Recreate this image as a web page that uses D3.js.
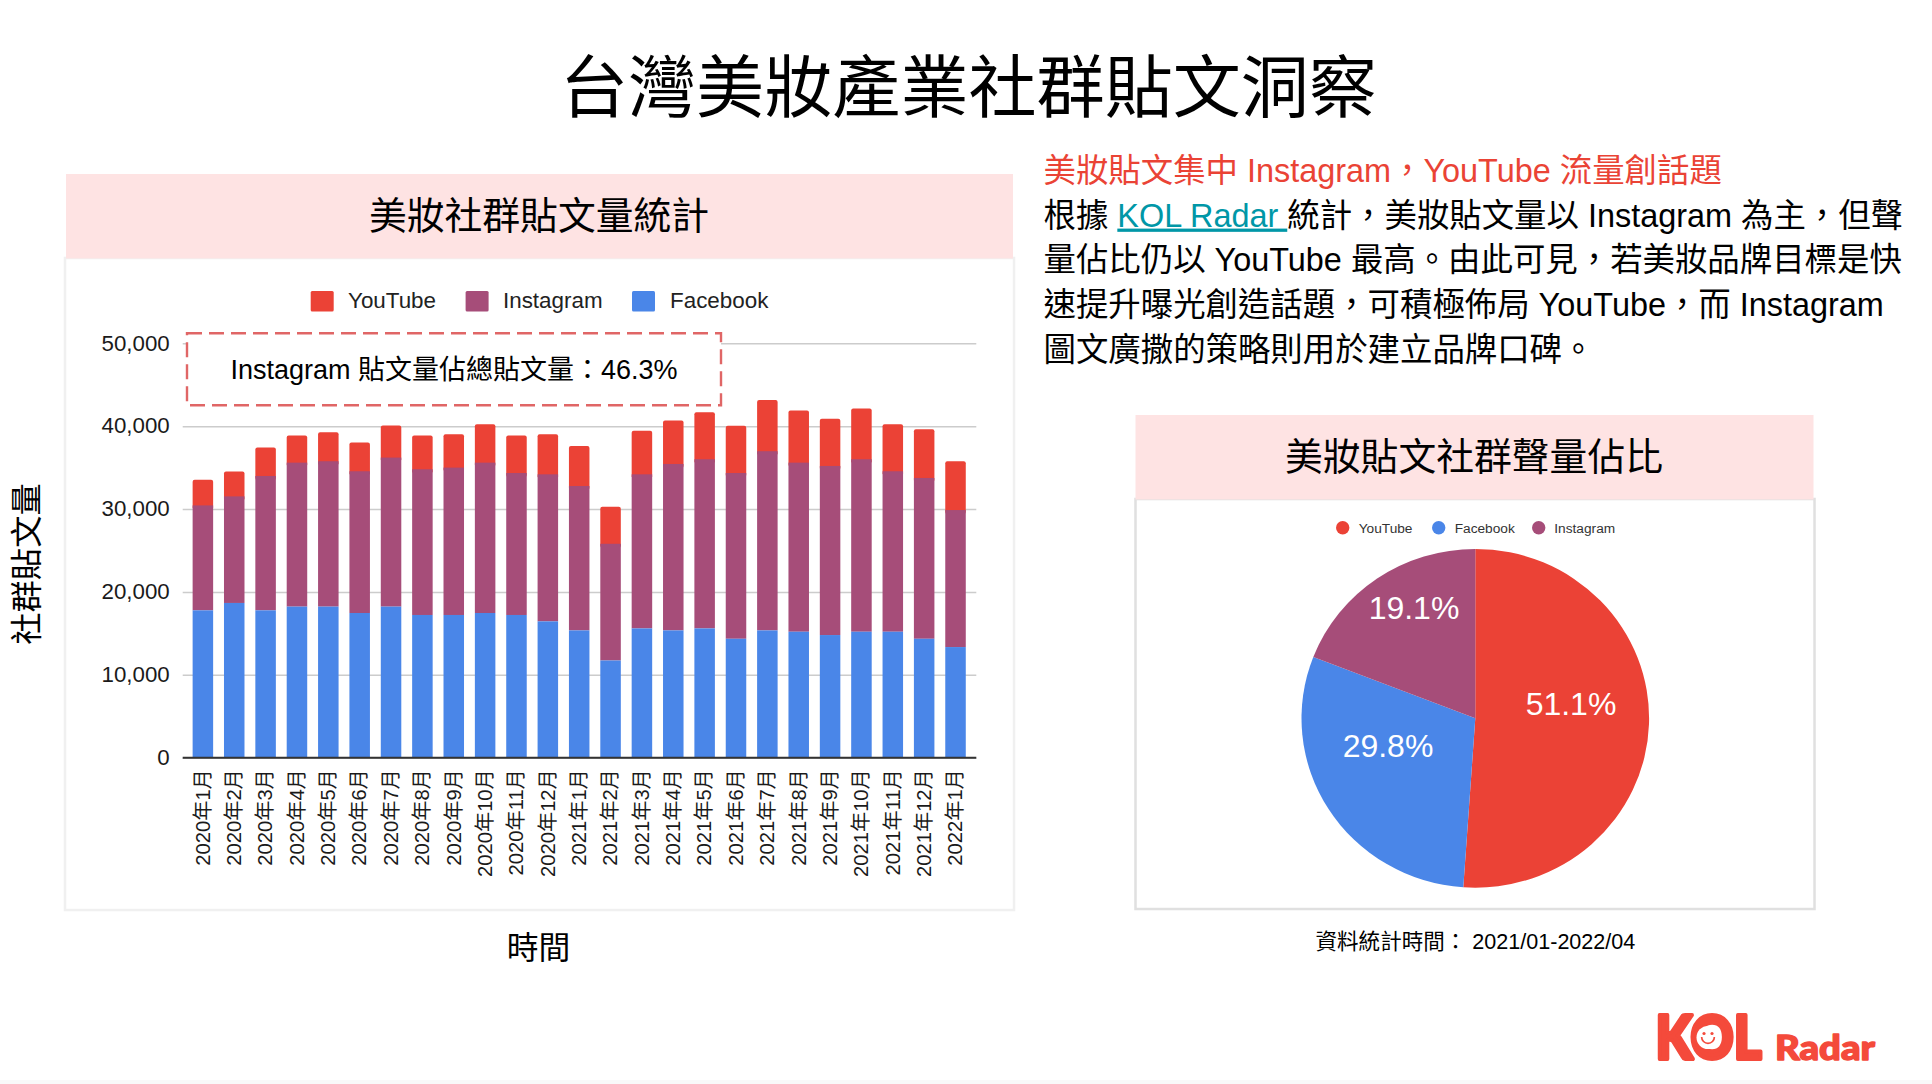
<!DOCTYPE html>
<html lang="zh-Hant">
<head>
<meta charset="utf-8">
<title>台灣美妝產業社群貼文洞察</title>
<script src="https://cdn.jsdelivr.net/npm/d3@7/dist/d3.min.js"></script>
<style>
html,body{margin:0;padding:0;background:#fff}
svg{display:block}
text{font-family:"Liberation Sans","Noto Sans CJK TC",sans-serif;white-space:pre}
</style>
</head>
<body>
<svg id="c" width="1932" height="1084" viewBox="0 0 1932 1084"></svg>
<script>
const months = ["2020年1月","2020年2月","2020年3月","2020年4月","2020年5月","2020年6月","2020年7月","2020年8月","2020年9月","2020年10月","2020年11月","2020年12月","2021年1月","2021年2月","2021年3月","2021年4月","2021年5月","2021年6月","2021年7月","2021年8月","2021年9月","2021年10月","2021年11月","2021年12月","2022年1月"];
const facebook = [17780,18670,17780,18230,18230,17460,18230,17220,17220,17460,17220,16450,15360,11730,15600,15360,15600,14350,15360,15200,14800,15200,15200,14350,13350];
const instagram = [12660,12860,16210,17370,17540,17100,17980,17580,17780,18140,17130,17740,17420,14080,18590,20080,20410,20000,21620,20400,20400,20810,19360,19400,16530];
const youtube = [3110,2990,3430,3270,3500,3460,3870,4070,4030,4640,4520,4840,4840,4470,5250,5250,5680,5690,6170,6300,5690,6130,5680,5890,5890];
const yTicks = [0,10000,20000,30000,40000,50000];
const barLegend = ["YouTube","Instagram","Facebook"];
const pieNames = ["YouTube","Facebook","Instagram"];
const pieShares = [51.1,29.8,19.1];
const pieLabels = ["51.1%","29.8%","19.1%"];

const RED="#eb4236", PURPLE="#a64d79", BLUE="#4a86e8", PINK="#fee3e3";
const colorOf = {YouTube:RED, Instagram:PURPLE, Facebook:BLUE};
const svg = d3.select("#c");

function label(parent,x,y,str,size,opts={}){
  return parent.append("text").attr("x",x).attr("y",y).text(str)
    .attr("font-size",size).attr("fill",opts.fill||"#000")
    .attr("text-anchor",opts.anchor||"start");
}

// main title
label(svg,968.5,112,"台灣美妝產業社群貼文洞察",68.1,{anchor:"middle"});

// left panel
svg.append("rect").attr("x",65).attr("y",258).attr("width",949).attr("height",652)
  .attr("fill","#fff").attr("stroke","#f0f0f0").attr("stroke-width",2.5);
svg.append("rect").attr("x",66).attr("y",174).attr("width",947).attr("height",84.5).attr("fill",PINK);
label(svg,539,229,"美妝社群貼文量統計",37.8,{anchor:"middle"});

// scales
const x = d3.scaleBand().domain(months).range([187.2,971.2]).paddingInner(0.346).paddingOuter(0.173);
const y = d3.scaleLinear().domain([0,50000]).range([757.7,343.3]);
const gridL = 182.7, gridR = 976.3;

// y axis and grid
const yAxis = svg.append("g").attr("transform",`translate(${gridL},0)`)
  .call(d3.axisLeft(y).tickValues(yTicks).tickFormat(d3.format(",")).tickSize(-(gridR-gridL)).tickPadding(13));
yAxis.select(".domain").remove();
yAxis.selectAll("line").attr("stroke","#cccccc").attr("stroke-width",1.6);
yAxis.selectAll("text").attr("font-size",22.3).attr("fill","#1a1a1a").attr("dy","0.3em")
  .style("font-family",'"Liberation Sans","Noto Sans CJK TC",sans-serif');

// stacked bars
const rows = months.map((m,i)=>({m,f:facebook[i],g:instagram[i],t:youtube[i]}));
const bars = svg.append("g");
bars.selectAll("rect.yt").data(rows).join("rect").attr("class","yt")
  .attr("x",d=>x(d.m)).attr("width",x.bandwidth())
  .attr("y",d=>y(d.f+d.g+d.t)).attr("height",d=>y(d.f+d.g)-y(d.f+d.g+d.t)+4)
  .attr("rx",2).attr("fill",RED);
bars.selectAll("rect.ig").data(rows).join("rect").attr("class","ig")
  .attr("x",d=>x(d.m)).attr("width",x.bandwidth())
  .attr("y",d=>y(d.f+d.g)).attr("height",d=>y(d.f)-y(d.f+d.g)).attr("fill",PURPLE);
bars.selectAll("rect.fb").data(rows).join("rect").attr("class","fb")
  .attr("x",d=>x(d.m)).attr("width",x.bandwidth())
  .attr("y",d=>y(d.f)).attr("height",d=>y(0)-y(d.f)).attr("fill",BLUE);

// baseline + x axis
svg.append("line").attr("x1",gridL).attr("x2",gridR).attr("y1",y(0)).attr("y2",y(0))
  .attr("stroke","#333").attr("stroke-width",2);
const xAxis = svg.append("g").attr("transform",`translate(0,${y(0)})`)
  .call(d3.axisBottom(x).tickSize(0));
xAxis.select(".domain").remove();
xAxis.selectAll("text").attr("transform","rotate(-90)")
  .attr("x",-11.5).attr("y",-0.5).attr("dy","0.36em").attr("text-anchor","end")
  .attr("font-size",20.2).attr("fill","#1a1a1a")
  .style("font-family",'"Liberation Sans","Noto Sans CJK TC",sans-serif');

// bar legend
const barLegendX = [[310.7,348],[465.6,503],[632,670]];
barLegend.forEach((n,i)=>{
  svg.append("rect").attr("x",barLegendX[i][0]).attr("y",291).attr("width",23).attr("height",20.5)
    .attr("rx",1.5).attr("fill",colorOf[n]);
  label(svg,barLegendX[i][1],307.5,n,22.4,{fill:"#222"});
});

// annotation box
svg.append("rect").attr("x",187).attr("y",333.3).attr("width",534).attr("height",72)
  .attr("fill","#fff").attr("stroke","#e06666").attr("stroke-width",2.4).attr("stroke-dasharray","15 7");
label(svg,230.5,379,"Instagram 貼文量佔總貼文量：46.3%",27);

// axis titles
label(svg,538.5,959,"時間",31.8,{anchor:"middle"});
svg.append("text").attr("transform","translate(38,564) rotate(-90)").attr("text-anchor","middle")
  .attr("font-size",32.3).attr("fill","#000").text("社群貼文量");

// commentary
const BODY = 32.42;
label(svg,1043.5,181.5,"美妝貼文集中 Instagram，YouTube 流量創話題",BODY,{fill:"#ea4335"});
const t2 = label(svg,1043.5,226.6,"",BODY);
t2.append("tspan").text("根據 ");
t2.append("tspan").text("KOL Radar ").attr("fill","#0097a7").attr("text-decoration","underline");
t2.append("tspan").text("統計，美妝貼文量以 Instagram 為主，但聲");
label(svg,1043.5,271.4,"量佔比仍以 YouTube 最高。由此可見，若美妝品牌目標是快",BODY);
label(svg,1043.5,316,"速提升曝光創造話題，可積極佈局 YouTube，而 Instagram",BODY);
label(svg,1043.5,361,"圖文廣撒的策略則用於建立品牌口碑。",BODY);

// right panel
svg.append("rect").attr("x",1135.5).attr("y",499).attr("width",679).attr("height",410)
  .attr("fill","#fff").attr("stroke","#e0e0e0").attr("stroke-width",2.5);
svg.append("rect").attr("x",1135.5).attr("y",415).attr("width",678).attr("height",84.5).attr("fill",PINK);
label(svg,1474,470,"美妝貼文社群聲量佔比",37.8,{anchor:"middle"});

// pie legend
const pieLegendX = [[1342.7,1358.7],[1438.7,1454.7],[1538.7,1554.3]];
pieNames.forEach((n,i)=>{
  svg.append("circle").attr("cx",pieLegendX[i][0]).attr("cy",527.7).attr("r",6.7).attr("fill",colorOf[n]);
  label(svg,pieLegendX[i][1],532.6,n,13.7,{fill:"#333"});
});

// pie
const pieData = d3.pie().sort(null).value(d=>d)(pieShares);
const arc = d3.arc().innerRadius(0).outerRadius(169.4);
svg.append("g").attr("transform","translate(1475.3,718.3) scale(1.026,1)")
  .selectAll("path").data(pieData).join("path")
  .attr("d",arc).attr("fill",(d,i)=>colorOf[pieNames[i]]);
const pieLabelPos = [[1571,714.5],[1388,757],[1414,618.5]];
pieLabels.forEach((s,i)=>label(svg,pieLabelPos[i][0],pieLabelPos[i][1],s,32,{fill:"#fff",anchor:"middle"}));

// source
label(svg,1315.5,949,"資料統計時間： 2021/01-2022/04",21.55);

// logo
const logo = svg.append("g");
const LOGO="#f44a3b";
logo.append("text").attr("x",1655.5).attr("y",1058.5).text("KOL")
  .attr("font-size",60).attr("font-weight",900).attr("fill",LOGO).attr("stroke",LOGO).attr("stroke-width",4)
  .attr("stroke-linejoin","round").attr("textLength",106).attr("lengthAdjust","spacingAndGlyphs")
  .style("font-family","Lato,sans-serif");
logo.append("circle").attr("cx",1708).attr("cy",1037.5).attr("r",11.5).attr("fill","#fff");
logo.append("circle").attr("cx",1704).attr("cy",1033.5).attr("r",1.6).attr("fill",LOGO);
logo.append("circle").attr("cx",1712).attr("cy",1033.5).attr("r",1.6).attr("fill",LOGO);
logo.append("path").attr("d",d3.arc().innerRadius(5.5).outerRadius(7.2).startAngle(Math.PI/2).endAngle(3*Math.PI/2)())
  .attr("transform","translate(1708,1037)").attr("fill",LOGO);
logo.append("text").attr("x",1775).attr("y",1059.5).text("Radar")
  .attr("font-size",34).attr("font-weight",900).attr("fill",LOGO).attr("stroke",LOGO).attr("stroke-width",1.4)
  .attr("stroke-linejoin","round").attr("textLength",100).attr("lengthAdjust","spacingAndGlyphs")
  .style("font-family","Lato,sans-serif");

// bottom edge
svg.append("rect").attr("x",0).attr("y",1080).attr("width",1932).attr("height",4).attr("fill","#f9f9f9");
</script>
</body>
</html>
